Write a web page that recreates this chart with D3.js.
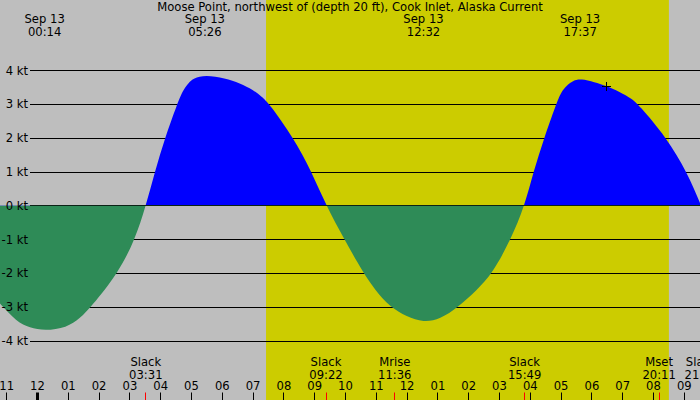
<!DOCTYPE html>
<html>
<head>
<meta charset="utf-8">
<script src="https://cdn.jsdelivr.net/npm/d3@7"></script>
<style>
html,body{margin:0;padding:0;background:#bebebe;}
svg{display:block;}
text{font-family:"DejaVu Sans",sans-serif;font-size:11.6px;fill:#000;}
</style>
</head>
<body>
<svg id="chart" width="700" height="400"></svg>
<script>
// ---- data (hours relative to Sep 13 00:00, current in knots) ----
const title = "Moose Point, northwest of (depth 20 ft), Cook Inlet, Alaska Current";
const hours = [-1.40, -1.22, -0.68, -0.25, 0.23, 0.95, 1.38, 1.72, 2.62, 3.17, 3.52,
  3.81, 4.14, 4.54, 4.73, 4.90, 5.06, 5.45, 6.09, 6.57, 7.01, 7.28, 7.52, 8.31, 8.90, 9.37,
  9.96, 10.58, 10.97, 11.44, 11.99, 12.53, 13.07, 13.66, 14.26, 14.78, 15.37, 15.82,
  16.10, 16.45, 16.84, 17.00, 17.18, 17.40, 17.63, 18.10, 18.43, 18.91, 19.29, 19.50,
  20.43, 21.08, 21.55, 21.80];
const speeds = [-2.72, -2.90, -3.44, -3.62, -3.71, -3.62, -3.34, -3.02, -2.00, -1.00, 0.00,
  1.00, 2.00, 3.02, 3.42, 3.62, 3.77, 3.86, 3.77, 3.62, 3.42, 3.22, 3.02, 2.00, 1.00, 0.00,
  -1.00, -2.00, -2.51, -3.00, -3.29, -3.46, -3.37, -3.00, -2.51, -2.00, -1.00, 0.00,
  1.00, 2.00, 3.00, 3.36, 3.55, 3.70, 3.75, 3.65, 3.55, 3.36, 3.16, 3.00,
  2.00, 1.00, 0.00, -0.60];
const extremaTimes = [0.233, 5.433, 12.533, 17.617];
const extremaLabels = ["00:14", "05:26", "12:32", "17:37"];
const extremaDate = "Sep 13";
const eventTimes = [3.517, 9.367, 11.6, 15.817, 20.183, 21.55];
const eventNames = ["Slack", "Slack", "Mrise", "Slack", "Mset", "Slack"];
const eventLabels = ["03:31", "09:22", "11:36", "15:49", "20:11", "21:33"];
const daylight = [7.42, 20.50];
const yTicks = [-4, -3, -2, -1, 0, 1, 2, 3, 4];
const hourTicks = d3.range(-1, 22);
const markerTime = 18.45, markerSpeed = 3.55;

// ---- scales ----
const W = 700, H = 400;
const x = d3.scaleLinear().domain([-37.5 / 30.8, (700 - 37.5) / 30.8]).range([0, W]);
const y = d3.scaleLinear().domain([-4, 4]).range([340.6, 70.3]);
const svg = d3.select("#chart");

svg.append("rect").attr("width", W).attr("height", H).attr("fill", "#bebebe");
svg.append("rect").attr("x", x(daylight[0])).attr("y", 0)
  .attr("width", x(daylight[1]) - x(daylight[0])).attr("height", H).attr("fill", "#cccc00");

// grid lines
const crisp = v => Math.round(v) + 0.5;
svg.append("g").selectAll("line").data(yTicks.filter(d => d !== 0)).join("line")
  .attr("x1", 30).attr("x2", W).attr("y1", d => crisp(y(d))).attr("y2", d => crisp(y(d)))
  .attr("stroke", "#000").attr("stroke-width", 1);

// area
const pts = hours.map((h, i) => [h, speeds[i]]);
const area = d3.area().x(d => x(d[0])).y0(y(0)).y1(d => y(d[1])).curve(d3.curveBasis);
const defs = svg.append("defs");
defs.append("clipPath").attr("id", "pos").append("rect")
  .attr("x", 0).attr("y", 0).attr("width", W).attr("height", y(0));
defs.append("clipPath").attr("id", "neg").append("rect")
  .attr("x", 0).attr("y", y(0)).attr("width", W).attr("height", H - y(0));
svg.append("path").datum(pts).attr("d", area).attr("fill", "#0000ff").attr("clip-path", "url(#pos)");
svg.append("line").attr("x1", 30).attr("x2", W).attr("y1", crisp(y(0))).attr("y2", crisp(y(0)))
  .attr("stroke", "#000");
svg.append("path").datum(pts).attr("d", area).attr("fill", "#2e8b57").attr("clip-path", "url(#neg)");

// y labels (on top of the areas)
svg.append("g").selectAll("text").data(yTicks).join("text")
  .attr("x", 28).attr("y", d => y(d) + 4.3).attr("text-anchor", "end")
  .text(d => d + " kt");

// marker
const mx = x(markerTime), my = y(markerSpeed);
svg.append("path").attr("d", `M${Math.round(mx) - 4},${Math.round(my) + 0.5}h9M${Math.round(mx) + 0.5},${Math.round(my) - 4}v9`)
  .attr("stroke", "#000").attr("stroke-width", 1).attr("fill", "none");

// title
svg.append("text").attr("x", 350).attr("y", 11.3).attr("text-anchor", "middle").text(title);

// extrema labels
const topG = svg.append("g").selectAll("g").data(extremaTimes).join("g");
topG.append("text").attr("x", d => x(d)).attr("y", 23.3).attr("text-anchor", "middle").text(extremaDate);
topG.append("text").attr("x", d => x(d)).attr("y", 36).attr("text-anchor", "middle").text((d, i) => extremaLabels[i]);

// hour ticks
const fmtHour = h => { let v = ((h % 12) + 12) % 12; if (v === 0) v = 12; return (v < 10 ? "0" : "") + v; };
svg.append("g").selectAll("line").data(hourTicks).join("line")
  .attr("x1", d => d % 24 === 0 ? x(d) : crisp(x(d) - 0.5)).attr("x2", d => d % 24 === 0 ? x(d) : crisp(x(d) - 0.5))
  .attr("y1", 392.5).attr("y2", H)
  .attr("stroke", "#000").attr("stroke-width", d => d % 24 === 0 ? 3 : 1);
svg.append("g").selectAll("text").data(hourTicks).join("text")
  .attr("x", d => x(d)).attr("y", 389.5).attr("text-anchor", "middle").text(fmtHour);

// events
svg.append("g").selectAll("line").data(eventTimes).join("line")
  .attr("x1", d => crisp(x(d) - 0.5)).attr("x2", d => crisp(x(d) - 0.5))
  .attr("y1", 392.5).attr("y2", H).attr("stroke", "#ff0000");
const ev = svg.append("g").selectAll("g").data(eventTimes).join("g");
ev.append("text").attr("x", d => x(d)).attr("y", 366).attr("text-anchor", "middle").text((d, i) => eventNames[i]);
ev.append("text").attr("x", d => x(d)).attr("y", 378.5).attr("text-anchor", "middle").text((d, i) => eventLabels[i]);
</script>
</body>
</html>
